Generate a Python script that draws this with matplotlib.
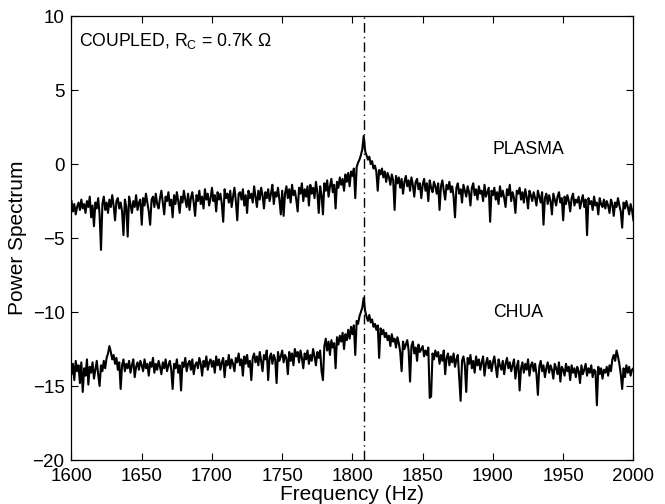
import matplotlib
matplotlib.use("Agg")
import matplotlib.pyplot as plt
import numpy as np

# frequency grid, 1 Hz steps
freq = np.arange(1600, 2001)

plasma = [
    -2.5, -3.2, -2.7, -3.4, -2.9, -2.6, -3.1, -2.4, -3.0, -2.7,
    -3.3, -2.5, -2.9, -2.2, -3.6, -2.8, -4.2, -2.6, -3.0, -2.3,
    -3.4, -5.8, -2.7, -2.2, -3.1, -2.6, -3.3, -2.4, -2.9, -2.1,
    -2.8, -3.8, -2.5, -2.3, -3.0, -2.6, -3.2, -4.8, -2.4, -2.9,
    -4.9, -2.2, -2.7, -3.3, -2.5, -2.9, -2.1, -3.1, -2.6, -2.4,
    -4.1, -2.3, -2.8, -2.0, -2.6, -3.2, -4.1, -2.4, -2.2, -2.9,
    -2.0, -2.7, -3.0, -2.3, -1.8, -2.6, -3.4, -2.2, -2.5, -1.9,
    -2.8, -2.4, -3.6, -2.1, -2.7, -1.9, -2.5, -3.3, -2.2, -2.6,
    -1.8, -2.4, -2.9, -2.0, -3.1, -2.3, -1.9, -2.6, -3.5, -2.1,
    -2.5, -1.8, -2.7, -2.2, -3.0, -1.7, -2.4, -2.0, -2.8, -2.3,
    -1.6, -2.5, -2.1, -3.2, -1.9, -2.4, -2.0, -2.7, -3.9, -1.7,
    -2.3, -2.0, -2.6, -1.8, -2.9, -2.2, -1.6, -2.5, -3.8, -2.0,
    -1.9, -2.4, -1.7, -2.8, -2.1, -3.3, -1.8, -2.3, -2.0, -2.6,
    -1.5, -2.2, -2.9, -1.8, -2.4, -1.6, -2.1, -3.0, -1.9, -2.3,
    -1.7, -2.5, -2.0, -1.4, -2.7, -1.9, -2.2, -1.6, -2.4, -3.4,
    -1.8, -3.5, -2.0, -1.5, -2.3, -1.7, -2.6, -1.4, -2.1, -1.8,
    -2.4, -3.2, -1.6, -2.0, -1.3, -2.5, -1.7, -2.2, -1.5, -2.8,
    -1.4, -2.0, -1.6, -2.3, -1.2, -1.9, -3.3, -1.5, -2.1, -3.4,
    -1.3, -1.8, -1.1, -2.2, -1.5, -1.0, -1.9, -1.4, -3.0, -1.2,
    -1.6, -0.9, -1.4, -1.0, -1.8, -0.7, -1.2, -0.6, -1.5, -0.5,
    -0.8, -0.3, -2.3, -0.2, 0.1, 0.3, 0.6, 1.0, 1.9, 0.9,
    0.6, 0.3, 0.5, 0.0, 0.2, -0.3, -0.1, -0.5, -1.8, -0.4,
    -0.7, -0.3, -0.9, -0.5, -1.2, -0.6, -0.9, -1.4, -0.7, -1.1,
    -3.1, -0.8, -1.3, -0.9, -1.6, -1.0, -2.0, -1.2, -0.8, -1.5,
    -1.1, -1.8, -0.9, -1.4, -2.2, -1.2, -1.0, -1.7, -1.3, -2.3,
    -1.4, -1.0, -1.8, -1.3, -2.5, -1.1, -1.6, -1.9, -1.2, -1.5,
    -2.0, -1.3, -3.1, -1.5, -1.1, -1.8, -2.4, -1.4, -1.7, -1.2,
    -1.9, -1.5, -2.2, -3.6, -1.6, -1.3, -2.0, -1.7, -2.6, -1.4,
    -1.8, -2.2, -1.5, -1.9, -2.8, -1.6, -1.3, -2.1, -1.7, -2.4,
    -1.5, -2.0, -1.8, -2.5, -1.4, -2.2, -1.9, -1.6, -3.9, -1.8,
    -2.1, -1.6, -2.4, -1.9, -2.7, -1.5, -2.2, -1.8, -2.3, -2.9,
    -1.7, -2.1, -1.4, -2.5, -1.9, -2.3, -3.3, -1.8, -2.0, -1.6,
    -2.4, -1.9, -2.6, -1.7, -2.2, -3.0, -1.8, -2.1, -2.5, -1.9,
    -2.3, -2.8, -1.8, -2.2, -2.6, -1.9, -4.1, -2.3, -2.0, -2.7,
    -2.1, -2.5, -3.4, -2.0, -2.4, -2.8, -2.2, -1.9, -2.6, -2.3,
    -3.8, -2.2, -2.7, -2.1, -2.5, -3.2, -2.3, -2.0, -2.8, -2.4,
    -2.6, -2.2, -3.0, -2.5, -2.1, -2.9, -2.4, -4.8, -2.3, -2.7,
    -2.5, -3.1, -2.2, -2.8, -2.6, -3.4, -2.3, -2.7, -2.9, -2.4,
    -3.0, -2.5, -2.8, -3.3, -2.4, -2.7, -3.5, -2.6, -2.9, -2.3,
    -2.8, -3.2, -4.3, -2.6, -3.0, -2.5, -2.9, -3.4, -2.7, -3.1,
    -3.8,
]

chua = [
    -14.2, -13.5, -14.6, -13.3, -14.0, -13.6, -14.8, -13.4, -15.4, -13.8,
    -14.3, -13.2, -14.9, -13.7, -14.1, -13.4, -14.5, -13.9, -13.3, -14.2,
    -15.0, -13.6, -14.0, -13.3, -13.8, -13.1, -12.8, -12.3, -12.7, -13.2,
    -12.9, -13.5, -13.1, -13.9, -13.4, -15.2, -13.6, -13.2, -14.0, -13.5,
    -13.8, -13.3, -14.1, -13.6, -13.2, -14.4, -13.7, -13.4, -13.9, -13.3,
    -13.6, -14.0, -13.2, -13.8, -13.5, -14.3, -13.4, -13.7, -13.1, -14.1,
    -13.5, -13.9, -13.3, -13.7, -14.2, -13.4, -13.8, -13.2, -14.0, -13.6,
    -13.3, -13.9, -15.2, -13.5, -13.8, -13.2, -14.1, -13.6, -15.3, -13.4,
    -13.7, -13.1, -14.0, -13.5, -13.3, -13.9, -13.2, -14.2, -13.6, -13.4,
    -13.8, -13.1, -13.5, -14.3, -13.3, -13.7, -13.0, -13.9, -13.4, -13.2,
    -13.7, -13.3, -14.1, -13.0, -13.6, -13.2, -13.9, -13.4, -13.1, -14.4,
    -13.3, -13.6, -12.9, -13.8, -13.2, -13.5, -14.0, -13.1, -13.4, -12.8,
    -13.6, -13.2, -14.3, -13.0, -13.5, -12.9, -13.7, -13.3, -14.6, -13.1,
    -12.8, -13.4, -13.0, -13.6, -12.7, -13.3, -14.0, -12.9, -13.2, -12.6,
    -14.6, -13.1, -12.8, -13.5, -12.9, -13.2, -14.8, -12.7, -13.3, -13.0,
    -12.6, -13.4, -12.9, -13.1, -14.2, -12.7, -13.3, -12.8, -13.6, -12.5,
    -13.0, -12.7, -13.4, -12.6, -13.1, -13.8, -12.8, -13.2, -12.6, -13.5,
    -12.9, -13.3, -12.5, -13.0, -13.6, -12.7, -13.1, -12.6, -14.0, -14.6,
    -12.3, -11.8, -12.6, -12.0, -12.9, -11.9, -12.4, -12.1, -13.8, -11.7,
    -12.2, -11.6, -12.0, -11.4, -12.5, -11.5, -11.9, -11.2, -11.8, -11.0,
    -11.5, -10.9, -12.9, -10.6, -10.8, -10.3, -10.0, -9.7, -9.05, -9.9,
    -10.3, -10.6, -10.2, -10.7, -10.5, -11.0, -10.8, -11.2, -10.9, -13.1,
    -11.1, -11.5, -11.2, -11.7, -11.4, -11.9, -11.6, -12.3, -11.5, -12.0,
    -11.8, -12.4, -11.7, -12.1, -12.7, -14.0, -12.0, -12.5, -12.2, -11.9,
    -12.6, -14.7, -12.3, -12.0, -12.8, -12.4, -13.3, -12.2, -12.7, -12.5,
    -12.3, -13.0, -12.6, -12.9, -12.4, -15.8, -15.7, -12.8, -13.2, -12.6,
    -13.0, -12.7, -13.5, -12.9, -13.3, -12.6, -14.2, -13.1, -12.8, -13.6,
    -13.0, -13.4, -12.8, -13.7, -13.2, -12.9, -14.5, -16.0, -13.3, -13.0,
    -13.6, -15.4, -13.1, -13.5, -12.9, -13.8, -13.3, -14.1, -13.0, -13.6,
    -13.2, -13.9, -13.4, -13.0, -14.3, -13.5, -13.1, -13.8, -13.3, -14.0,
    -13.4, -13.0, -13.7, -14.4, -13.2, -13.6, -13.9, -13.3, -14.2, -13.5,
    -13.1, -13.8, -13.4, -14.0, -13.6, -13.2, -14.5, -13.7, -13.3, -15.3,
    -13.8, -13.4, -14.1, -13.5, -13.9, -13.2, -14.3, -13.6, -13.4, -14.0,
    -13.5, -14.2, -15.6, -13.7, -13.3, -14.0, -13.6, -14.4, -13.8, -13.4,
    -14.1, -13.6, -13.9, -14.5, -13.5, -13.8, -14.2, -13.4, -14.7, -13.7,
    -13.9, -14.3, -13.5, -14.0, -13.7, -14.6, -13.6, -14.1, -13.8, -14.4,
    -13.7, -14.0, -14.8, -13.6, -14.2, -13.9, -13.5, -14.3, -13.8, -14.1,
    -13.6, -14.4, -13.9, -14.0, -16.3, -13.7, -14.2, -13.8, -14.5, -13.9,
    -14.1, -13.7, -14.3, -13.6, -14.0, -13.2, -12.9, -13.3, -12.6, -13.0,
    -13.5, -14.2, -15.2, -13.8, -14.4, -13.6, -14.1, -13.7, -14.3, -13.9,
    -13.8,
]

peak_freq = 1808
xticks = [1600, 1650, 1700, 1750, 1800, 1850, 1900, 1950, 2000]
yticks = [-20, -15, -10, -5, 0, 5, 10]

plt.rcParams['font.family'] = ['Liberation Sans', 'DejaVu Sans']
plt.rcParams['mathtext.fontset'] = 'custom'
plt.rcParams['mathtext.rm'] = 'Liberation Sans'

fig = plt.figure(figsize=(6.65, 5.04), dpi=100)
ax = fig.add_axes([0.1075, 0.0873, 0.845, 0.8807])

ax.plot(freq, plasma, color="black", lw=1.5)
ax.plot(freq, chua, color="black", lw=1.5)
ax.axvline(peak_freq, color="black", lw=1.0, ls=(0, (7, 3, 1, 3)))

ax.set_xlim(1600, 2000)
ax.set_ylim(-20, 10)
ax.set_xticks(xticks)
ax.set_yticks(yticks)
ax.tick_params(direction="in", top=True, right=True, labelsize=13.5,
               length=5, width=0.8)
ax.tick_params(axis="x", pad=6)
ax.tick_params(axis="y", pad=5)
for s in ax.spines.values():
    s.set_linewidth(0.9)

ax.set_xlabel("Frequency (Hz)", fontsize=15, labelpad=0)
ax.set_ylabel("Power Spectrum", fontsize=15, labelpad=4)

ax.text(1605, 8.3, r"COUPLED, R$_\mathregular{C}$ = 0.7K Ω", fontsize=12.7,
        va="center", ha="left")
ax.text(1900, 1.0, "PLASMA", fontsize=12.7, va="center", ha="left")
ax.text(1900, -10.0, "CHUA", fontsize=12.7, va="center", ha="left")

fig.savefig("out.png", dpi=100)
